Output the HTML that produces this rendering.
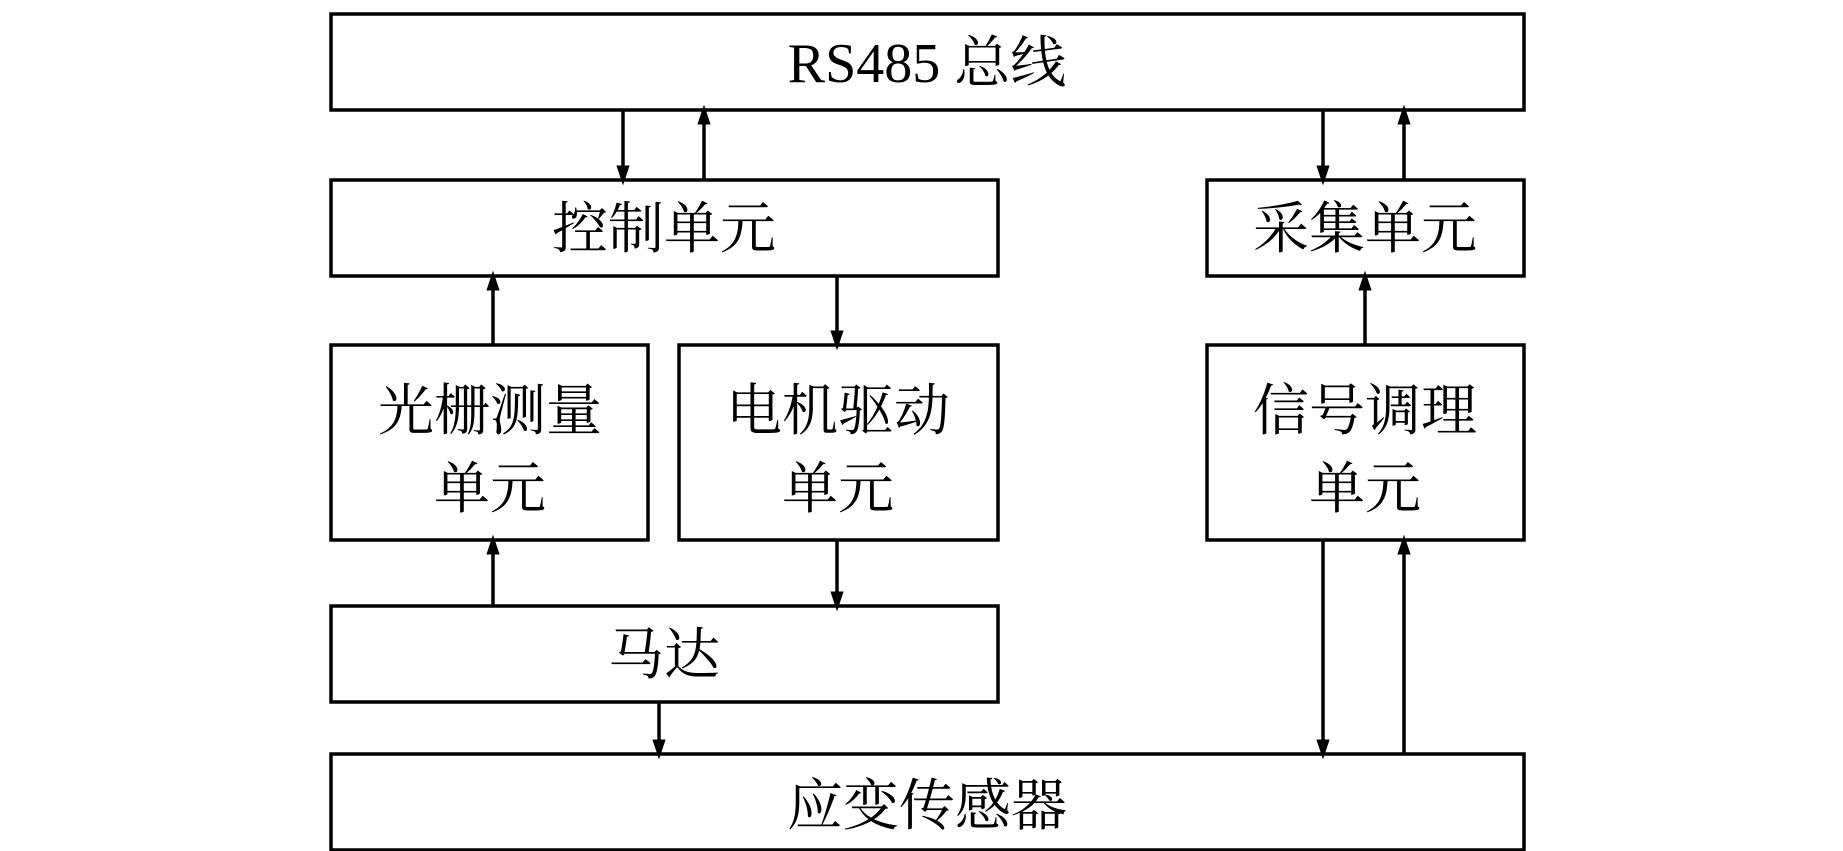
<!DOCTYPE html>
<html><head><meta charset="utf-8"><style>
html,body{margin:0;padding:0;background:#fff;}
svg{display:block;}
text{font-family:"Liberation Serif","Noto Serif CJK SC",serif;font-size:56px;fill:#000;text-anchor:middle;}
</style></head><body>
<svg width="1843" height="851" viewBox="0 0 1843 851" xmlns="http://www.w3.org/2000/svg">
<defs>
<marker id="a" markerWidth="20" markerHeight="30" refX="19" refY="10" orient="auto" markerUnits="userSpaceOnUse" viewBox="0 0 30 20">
<path d="M0,0 L30,10 L0,20 Z" fill="#000"/>
</marker>
</defs>
<g fill="none" stroke="#000" stroke-width="3.5">
<rect x="331" y="14" width="1193" height="96"/>
<rect x="331" y="180" width="667" height="96"/>
<rect x="1207" y="180" width="317" height="96"/>
<rect x="331" y="345" width="317" height="195"/>
<rect x="679" y="345" width="319" height="195"/>
<rect x="1207" y="345" width="317" height="195"/>
<rect x="331" y="606" width="667" height="96"/>
<rect x="331" y="754" width="1193" height="96"/>
</g>
<g stroke="#000" stroke-width="3.5" marker-end="url(#a)">
<line x1="623" y1="110" x2="623" y2="178"/>
<line x1="704" y1="180" x2="704" y2="112"/>
<line x1="1323" y1="110" x2="1323" y2="178"/>
<line x1="1404" y1="180" x2="1404" y2="112"/>
<line x1="493" y1="345" x2="493" y2="278"/>
<line x1="837" y1="276" x2="837" y2="343"/>
<line x1="1365" y1="345" x2="1365" y2="278"/>
<line x1="493" y1="606" x2="493" y2="542"/>
<line x1="837" y1="540" x2="837" y2="604"/>
<line x1="659" y1="702" x2="659" y2="752"/>
<line x1="1323" y1="540" x2="1323" y2="752"/>
<line x1="1404" y1="754" x2="1404" y2="542"/>
</g>
<text x="927" y="82">RS485 总线</text>
<text x="664" y="248">控制单元</text>
<text x="1365" y="248">采集单元</text>
<text x="490" y="430">光栅测量</text>
<text x="490" y="508">单元</text>
<text x="838" y="430">电机驱动</text>
<text x="838" y="508">单元</text>
<text x="1365" y="430">信号调理</text>
<text x="1365" y="508">单元</text>
<text x="664" y="674">马达</text>
<text x="927" y="825">应变传感器</text>
</svg>
</body></html>
